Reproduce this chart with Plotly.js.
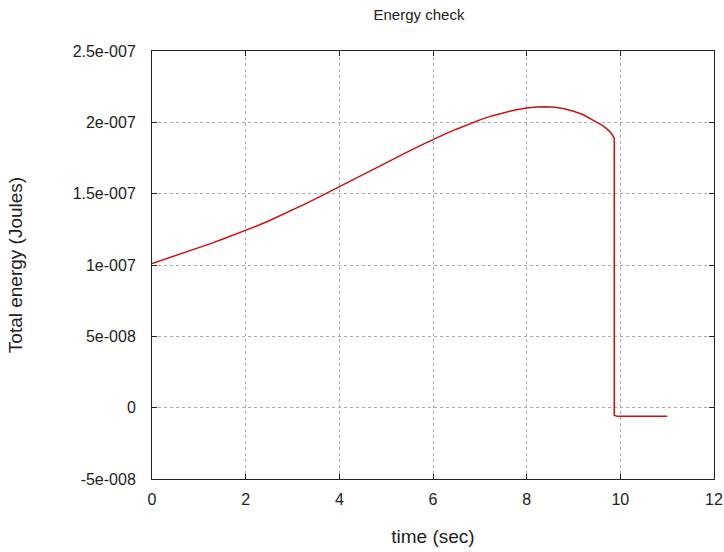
<!DOCTYPE html>
<html>
<head>
<meta charset="utf-8">
<script src="https://cdn.plot.ly/plotly-3.0.1.min.js"></script>
<style>html,body{margin:0;padding:0;background:#fff;}#chart{width:724px;height:552px;}</style>
</head>
<body>
<div id="chart"></div>
<script>
const timeSec = [0, 0.25, 0.5, 0.75, 1, 1.25, 1.5, 1.75, 2, 2.25, 2.5, 2.75, 3, 3.25, 3.5, 3.75, 4, 4.25, 4.5, 4.75, 5, 5.25, 5.5, 5.75, 6, 6.25, 6.5, 6.75, 7, 7.25, 7.5, 7.75, 8, 8.2, 8.4, 8.6, 8.8, 9.0, 9.2, 9.35, 9.5, 9.6, 9.7, 9.8, 9.87, 9.87, 9.93, 11.0];
const energyJ = [1.01e-7, 1.037e-7, 1.065e-7, 1.092e-7, 1.12e-7, 1.15e-7, 1.18e-7, 1.21e-7, 1.24e-7, 1.275e-7, 1.31e-7, 1.347e-7, 1.385e-7, 1.425e-7, 1.465e-7, 1.507e-7, 1.55e-7, 1.592e-7, 1.635e-7, 1.678e-7, 1.72e-7, 1.76e-7, 1.80e-7, 1.84e-7, 1.88e-7, 1.917e-7, 1.952e-7, 1.986e-7, 2.017e-7, 2.045e-7, 2.068e-7, 2.087e-7, 2.10e-7, 2.108e-7, 2.11e-7, 2.106e-7, 2.095e-7, 2.078e-7, 2.055e-7, 2.03e-7, 2.0e-7, 1.982e-7, 1.958e-7, 1.927e-7, 1.89e-7, -5.3e-9, -6.1e-9, -6.1e-9];
const yTickVals = [-5e-8, 0, 5e-8, 1e-7, 1.5e-7, 2e-7, 2.5e-7];
const yTickText = ["-5e-008", "0", "5e-008", "1e-007", "1.5e-007", "2e-007", "2.5e-007"];
const xTickVals = [0, 2, 4, 6, 8, 10, 12];

const fam = "Liberation Sans, Arial, sans-serif";
const tickFont = {family: fam, size: 16, color: "#222"};
const axTitleFont = {family: fam, size: 19, color: "#222"};
Plotly.newPlot("chart", [{
  x: timeSec, y: energyJ, type: "scatter", mode: "lines",
  line: {color: "#cc1111", width: 1.5}, hoverinfo: "skip"
}], {
  width: 724, height: 552,
  margin: {l: 152, r: 10, t: 51, b: 73},
  paper_bgcolor: "#fff", plot_bgcolor: "#fff",
  font: tickFont,
  showlegend: false,
  title: {text: "Energy check", xref: "paper", x: 0.475, xanchor: "center", y: 0.973, yanchor: "middle", font: {family: fam, size: 15, color: "#222"}},
  xaxis: {
    range: [0, 12], tickvals: xTickVals, ticktext: xTickVals.map(String), tickfont: tickFont,
    showgrid: true, gridcolor: "#aaa", griddash: "dot", gridwidth: 1,
    zeroline: false, showline: true, linecolor: "#222", linewidth: 1, mirror: "allticks",
    ticks: "inside", ticklen: 5, tickcolor: "#222", ticklabelstandoff: 6,
    title: {text: "time (sec)", standoff: 22, font: axTitleFont}
  },
  yaxis: {
    range: [-5e-8, 2.5e-7], tickvals: yTickVals, ticktext: yTickText, tickfont: tickFont,
    showgrid: true, gridcolor: "#aaa", griddash: "dot", gridwidth: 1,
    zeroline: false, showline: true, linecolor: "#222", linewidth: 1, mirror: "allticks",
    ticks: "inside", ticklen: 5, tickcolor: "#222", ticklabelstandoff: 12,
    title: {text: "Total energy (Joules)", standoff: 44, font: axTitleFont}
  }
}, {staticPlot: true});
</script>
</body>
</html>
